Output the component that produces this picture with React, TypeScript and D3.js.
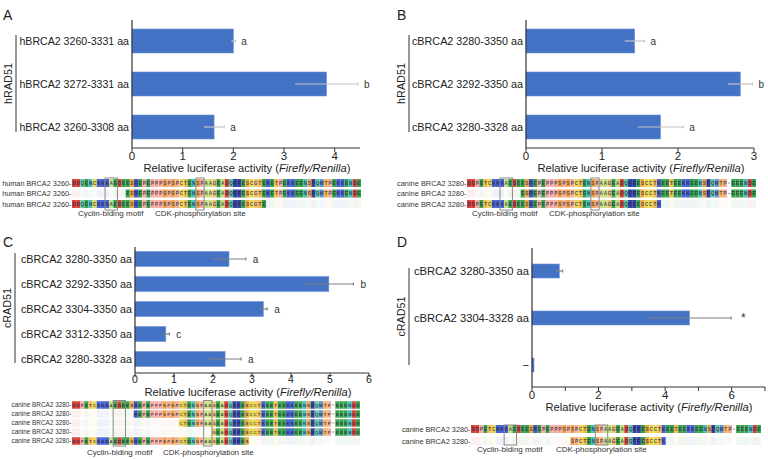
import React from "react";
import * as d3 from "d3";

const FONT = "'Liberation Sans', Arial, Helvetica, sans-serif";
const BAR = "#4472C4";

// ---- panel A (human BRCA2 / hRAD51)
const aLabels = ["hBRCA2 3260-3331 aa", "hBRCA2 3272-3331 aa", "hBRCA2 3260-3308 aa"];
const aValues = [2.0, 3.84, 1.62];
const aErrors = [0.04, 0.62, 0.2];
const aMarks = ["a", "b", "a"];
const aTicks = [0, 1, 2, 3, 4];

// ---- panel B (canine BRCA2 / hRAD51)
const bLabels = ["cBRCA2 3280-3350 aa", "cBRCA2 3292-3350 aa", "cBRCA2 3280-3328 aa"];
const bValues = [1.43, 2.82, 1.77];
const bErrors = [0.13, 0.16, 0.3];
const bMarks = ["a", "b", "a"];
const bTicks = [0, 1, 2, 3];

// ---- panel C (canine BRCA2 / cRAD51)
const cLabels = [
  "cBRCA2 3280-3350 aa",
  "cBRCA2 3292-3350 aa",
  "cBRCA2 3304-3350 aa",
  "cBRCA2 3312-3350 aa",
  "cBRCA2 3280-3328 aa",
];
const cValues = [2.41, 4.97, 3.29, 0.79, 2.31];
const cErrors = [0.43, 0.63, 0.1, 0.09, 0.41];
const cMarks = ["a", "b", "a", "c", "a"];
const cTicks = [0, 1, 2, 3, 4, 5, 6];

// ---- panel D
const dLabels = ["cBRCA2 3280-3350 aa", "cBRCA2 3304-3328 aa", "\u2212"];
const dValues = [0.82, 4.73, 0.06];
const dErrors = [0.1, 1.25, 0];
const dMarks = ["", "*", ""];
const dTicks = [0, 1, 2, 3, 4, 5, 6, 7];

// ---- sequences
const humanSeq = "DDQENCKKKAEDEESREPEPPPSPSPCTENSPAAGEADQFFESCGTEKETPEKKEENSFQMTPEKKENDE";
const canineSeq = "DDPETCKKKAEDEESREPEPPPSPSPCTENSPAAGEADQFFESCCTKEETEEKKEENSFQMTP-EEENDE";
// visible [start, end) per row of each alignment
const aRows = [[0, 70], [13, 70], [0, 47]];
const bRows = [[0, 70], [13, 70], [0, 47]];
const cRows = [[0, 70], [15, 70], [26, 70], [34, 70], [0, 43]];
const dRows = [[0, 70], [24, 47]];

const aaColor: Record<string, string> = {
  D: "#d63a2f", E: "#2f9e44", K: "#3f5bd0", R: "#3d4fc4", S: "#f0a33a",
  T: "#f3b84a", P: "#f4a9a0", C: "#e9d84a", N: "#3bbdc4", Q: "#5cc7a0",
  A: "#c6df7a", G: "#f0c070", F: "#2a3a9e", M: "#5a8ee0", Y: "#2f8fbf",
};

function Title({ x, y }) {
  return (
    <text x={x} y={y} textAnchor="middle" fontSize={11.2} fill="#222">
      Relative luciferase activity (<tspan fontStyle="italic">Firefly/Renilla</tspan>)
    </text>
  );
}

function BarPanel(p) {
  const xs = d3.scaleLinear().domain(p.domain).range(p.range);
  const ys = d3.scalePoint().domain(p.labels.map((_, i) => String(i))).range(p.centers);
  const x0 = p.range[0];
  return (
    <g fontFamily={FONT}>
      <text x={p.letterX} y={p.letterY} fontSize={14} fill="#222">{p.letter}</text>
      {p.values.map((v, i) => {
        const cy = ys(String(i));
        const e = p.errors[i];
        return (
          <g key={i}>
            <rect x={x0} y={cy - p.barH / 2} width={xs(v) - x0} height={p.barH} fill={BAR} stroke="#6d93d8" strokeWidth={0.6} />
            {e > 0 && (
              <g stroke={p.errColor} strokeWidth={1.2}>
                <line x1={xs(v - e)} x2={xs(v + e)} y1={cy} y2={cy} />
                <line x1={xs(v + e)} x2={xs(v + e)} y1={cy - 1.5} y2={cy + 1.5} />
              </g>
            )}
            {p.marks[i] && (
              <text x={xs(v + e) + p.markGap} y={cy} dy="0.35em" fontSize={p.marks[i] === "*" ? 12 : 10} fill="#333">
                {p.marks[i]}
              </text>
            )}
            <text x={x0 - 3} y={cy} dy="0.36em" textAnchor="end" fontSize={p.labelSize} fill="#222">
              {p.labels[i]}
            </text>
          </g>
        );
      })}
      <line x1={x0} x2={x0} y1={p.axisTop} y2={p.axisBottom} stroke="#333" strokeWidth={1.2} />
      <line x1={x0} x2={p.range[1]} y1={p.axisBottom} y2={p.axisBottom} stroke="#333" strokeWidth={1.2} />
      {p.ticks.map((t) => (
        <g key={t}>
          <line x1={xs(t)} x2={xs(t)} y1={p.axisBottom} y2={p.axisBottom + 4} stroke="#333" strokeWidth={1} />
          {(!p.evenOnly || t % 2 === 0) && (
            <text x={xs(t)} y={p.axisBottom + p.tickGap} textAnchor="middle" fontSize={p.tickSize} fill="#222">{t}</text>
          )}
        </g>
      ))}
      <line x1={p.bracketX} x2={p.bracketX} y1={p.bracket[0]} y2={p.bracket[1]} stroke="#333" strokeWidth={1} />
      <text
        transform={`translate(${p.bracketX - 4},${(p.bracket[0] + p.bracket[1]) / 2}) rotate(-90)`}
        textAnchor="middle" fontSize={10.8} fill="#222"
      >
        {p.group}
      </text>
      <Title x={p.titleX} y={p.titleY} />
    </g>
  );
}

function SeqPanel(p) {
  const n = p.seq.length;
  const xs = d3.scaleBand().domain(d3.range(n).map(String)).range([p.x0, p.x1]).padding(0);
  const w = xs.bandwidth();
  const letters = p.seq.split("");
  return (
    <g fontFamily={FONT}>
      {p.rows.map((r, ri) => {
        const y = p.rowY[ri];
        return (
          <g key={ri}>
            <text x={p.x0 - 0.5} y={y} dy="0.35em" textAnchor="end" fontSize={p.labelSize} fill="#333">
              {p.label}
            </text>
            {letters.map((ch, i) => {
              const vis = i >= r[0] && i < r[1];
              const cx = xs(String(i));
              if (ch === "-") {
                return vis ? (
                  <line key={i} x1={cx + 1} x2={cx + w - 1} y1={y} y2={y} stroke="#555" strokeWidth={0.6} />
                ) : null;
              }
              return (
                <g key={i}>
                  <rect x={cx} y={y - p.cellH / 2} width={w} height={p.cellH}
                    fill={aaColor[ch] || "#ccc"} opacity={vis ? 0.95 : 0.08} />
                  {vis && (
                    <text x={cx + w / 2} y={y} dy="0.35em" textAnchor="middle" fontSize={p.cellH * 0.58}
                      fontWeight="bold" fill="#1c1c3a" opacity={0.75}>
                      {ch}
                    </text>
                  )}
                </g>
              );
            })}
          </g>
        );
      })}
      {p.boxes.map((b, i) => (
        <rect key={i} x={xs(String(b[0]))} width={xs(String(b[1] - 1)) + w - xs(String(b[0]))}
          y={p.boxY[0]} height={p.boxY[1] - p.boxY[0]} fill="none" stroke="#8a8a8a" strokeWidth={1} />
      ))}
      <text x={p.motifX[0]} y={p.motifY} fontSize={8} fill="#333">Cyclin-biding motif</text>
      <text x={p.motifX[1]} y={p.motifY} fontSize={8} fill="#333">CDK-phosphorylation site</text>
    </g>
  );
}

export default function App() {
  return (
    <svg width={768} height={459} style={{ position: "absolute", left: 0, top: 0, background: "#fff" }}>
      <rect width={768} height={459} fill="#fff" />
      <BarPanel letter="A" letterX={3} letterY={20} labels={aLabels} values={aValues} errors={aErrors}
        marks={aMarks} ticks={aTicks} domain={[0, 4.5]} range={[132, 360]} axisTop={20} axisBottom={148}
        centers={[41, 127]} barH={24} bracketX={16} bracket={[35, 132]} group="hRAD51" labelSize={10.6}
        errColor="#c4c4c4" titleX={247} titleY={172} markGap={6} tickGap={12} tickSize={11.5} />
      <BarPanel letter="B" letterX={397} letterY={20} labels={bLabels} values={bValues} errors={bErrors}
        marks={bMarks} ticks={bTicks} domain={[0, 3]} range={[526, 754]} axisTop={20} axisBottom={148}
        centers={[41, 127]} barH={24} bracketX={409} bracket={[35, 132]} group="hRAD51" labelSize={10.8}
        errColor="#c4c4c4" titleX={641} titleY={172} markGap={6} tickGap={12} tickSize={11.5} />
      <BarPanel letter="C" letterX={3} letterY={247} labels={cLabels} values={cValues} errors={cErrors}
        marks={cMarks} ticks={cTicks} domain={[0, 6]} range={[135, 369]} axisTop={247} axisBottom={373}
        centers={[259, 359]} barH={15} bracketX={15} bracket={[253, 363]} group="cRAD51" labelSize={10.8}
        errColor="#808080" titleX={248} titleY={396} markGap={7} tickGap={9.5} tickSize={10.5} />
      <BarPanel letter="D" letterX={397} letterY={247} labels={dLabels} values={dValues} errors={dErrors}
        marks={dMarks} ticks={dTicks} evenOnly domain={[0, 7]} range={[532, 765]} axisTop={248} axisBottom={387}
        centers={[271, 365]} barH={14} bracketX={409} bracket={[268, 365]} group="cRAD51" labelSize={11.2}
        errColor="#808080" titleX={649} titleY={411} markGap={10} tickGap={12} tickSize={11.5} />

      <SeqPanel seq={humanSeq} label="human BRCA2 3260-" rows={aRows} rowY={[183, 193.5, 204]} x0={72} x1={361}
        cellH={8} labelSize={7.3} boxes={[[8, 11], [30, 32]]} boxY={[178, 210]} motifX={[78, 155]} motifY={216} />
      <SeqPanel seq={canineSeq} label="canine BRCA2 3280-" rows={bRows} rowY={[183, 193.5, 204]} x0={467} x1={756}
        cellH={8} labelSize={7.4} boxes={[[8, 11], [30, 32]]} boxY={[178, 210]} motifX={[472, 549]} motifY={216} />
      <SeqPanel seq={canineSeq} label="canine BRCA2 3280-" rows={cRows} rowY={[405, 414, 423, 432, 441]} x0={72} x1={360}
        cellH={7.5} labelSize={6.4} boxes={[[10, 13], [32, 34]]} boxY={[400.5, 446]} motifX={[87, 163]} motifY={455} />
      <SeqPanel seq={canineSeq} label="canine BRCA2 3280-" rows={dRows} rowY={[429, 441]} x0={471} x1={761}
        cellH={8} labelSize={7.3} boxes={[[8, 11], [30, 33]]} boxY={[425, 445]} motifX={[477, 556]} motifY={452} />
    </svg>
  );
}
